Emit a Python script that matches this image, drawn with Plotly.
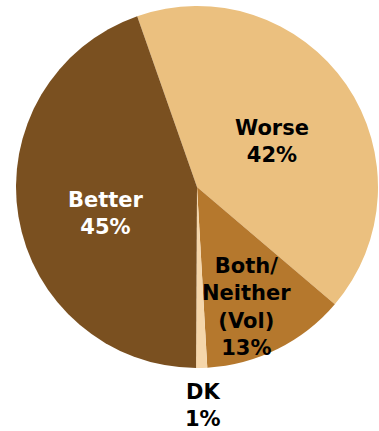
import plotly.graph_objects as go

# Survey shares (percent)
labels = ["Worse", "Both/<br>Neither<br>(Vol)", "DK", "Better"]
values = [42, 13, 1, 45]
colors = ["#EBC07F", "#B5782D", "#F5D6AA", "#7A5020"]
text_colors = ["#000000", "#000000", "#000000", "#FFFFFF"]
# label centre points in pixels (x, y from top) on a 379x431 canvas
label_px = [(272, 141), (246, 307), (203, 405), (106, 214)]

W, H = 379, 431
cx, cy, r = 197, 187, 181

fig = go.Figure(
    go.Pie(
        labels=labels,
        values=values,
        sort=False,
        direction="clockwise",
        rotation=-19.3,
        marker=dict(colors=colors, line=dict(width=0)),
        textinfo="none",
        hoverinfo="label+percent",
        showlegend=False,
        domain=dict(
            x=[(cx - r) / W, (cx + r) / W],
            y=[(H - cy - r) / H, (H - cy + r) / H],
        ),
    )
)

for lab, val, col, (px, py) in zip(labels, values, text_colors, label_px):
    fig.add_annotation(
        x=px / W,
        y=1 - py / H,
        xref="paper",
        yref="paper",
        xanchor="center",
        yanchor="middle",
        text=f"<b>{lab}<br>{val}%</b>",
        showarrow=False,
        align="center",
        font=dict(family="Verdana, DejaVu Sans, sans-serif", size=21, color=col),
    )

fig.update_layout(
    width=W,
    height=H,
    margin=dict(l=0, r=0, t=0, b=0),
    paper_bgcolor="white",
    plot_bgcolor="white",
)

fig.write_html("out.html")
